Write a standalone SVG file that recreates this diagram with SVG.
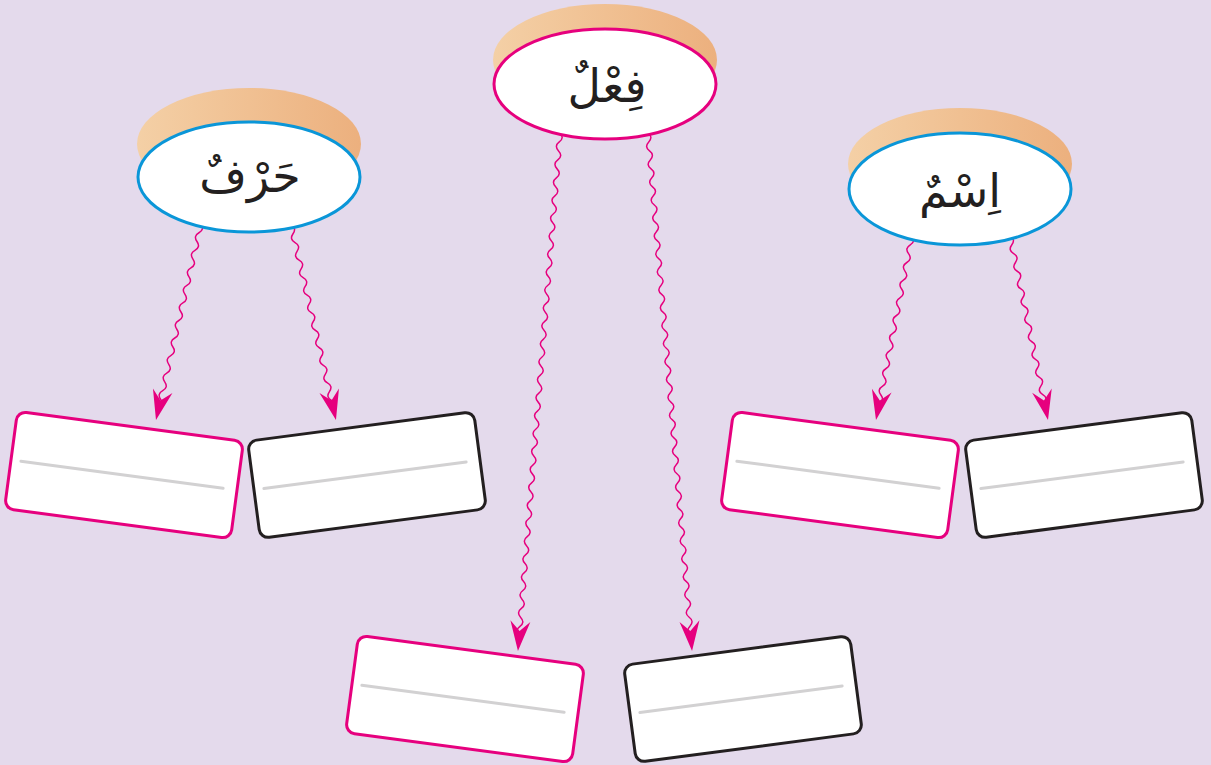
<svg xmlns="http://www.w3.org/2000/svg" xmlns:xlink="http://www.w3.org/1999/xlink" width="1211" height="765" viewBox="0 0 1211 765">
<style>
.bg{fill:#E4DAEC}
.shadow{fill:url(#sh)}
.oval{fill:#FFFFFF;stroke-width:3}
.blue{stroke:#0A96D8}
.pink{stroke:#E6007E}
.dark{stroke:#231F20}
.word{font-family:"DejaVu Sans",sans-serif;font-size:46px;fill:#231F20;text-anchor:middle}
.box{fill:#FFFFFF;stroke-width:3}
.rule{stroke:#D2D1D2;stroke-width:3;stroke-linecap:round;fill:none}
.wave{fill:none;stroke:#E6007E;stroke-width:1.5}
.head{fill:#E6007E}
</style>
<defs>
<linearGradient id="sh" x1="0" y1="0" x2="1" y2="0">
<stop offset="0" stop-color="#F4D0A6"/>
<stop offset="1" stop-color="#ECB07E"/>
</linearGradient>
<path id="w19" d="M0,0 q5,4.5 0,9 t0,9 t0,9 t0,9 t0,9 t0,9 t0,9 t0,9 t0,9 t0,9 t0,9 t0,9 t0,9 t0,9 t0,9 t0,9 t0,9 t0,9 t0,9"/>
<path id="w21" d="M0,0 q5,4.5 0,9 t0,9 t0,9 t0,9 t0,9 t0,9 t0,9 t0,9 t0,9 t0,9 t0,9 t0,9 t0,9 t0,9 t0,9 t0,9 t0,9 t0,9 t0,9 t0,9 t0,9"/>
<path id="w56" d="M0,0 q5,4.5 0,9 t0,9 t0,9 t0,9 t0,9 t0,9 t0,9 t0,9 t0,9 t0,9 t0,9 t0,9 t0,9 t0,9 t0,9 t0,9 t0,9 t0,9 t0,9 t0,9 t0,9 t0,9 t0,9 t0,9 t0,9 t0,9 t0,9 t0,9 t0,9 t0,9 t0,9 t0,9 t0,9 t0,9 t0,9 t0,9 t0,9 t0,9 t0,9 t0,9 t0,9 t0,9 t0,9 t0,9 t0,9 t0,9 t0,9 t0,9 t0,9 t0,9 t0,9 t0,9 t0,9 t0,9 t0,9 t0,9"/>
<path id="ah" d="M0,0 L-10,-30 L0,-20 L10,-30 Z"/>
</defs>
<rect class="bg" x="0" y="0" width="1211" height="765"/>

<g id="connectors">
<g transform="translate(201,224) rotate(12.94)"><use href="#w21" class="wave"/><use href="#ah" class="head" transform="translate(0,201)"/></g>
<g transform="translate(291,225) rotate(-12.99)"><use href="#w21" class="wave"/><use href="#ah" class="head" transform="translate(0,200)"/></g>
<g transform="translate(560,133) rotate(4.64)"><use href="#w56" class="wave"/><use href="#ah" class="head" transform="translate(0,519.7)"/></g>
<g transform="translate(648,133) rotate(-4.86)"><use href="#w56" class="wave"/><use href="#ah" class="head" transform="translate(0,519.9)"/></g>
<g transform="translate(912,236) rotate(11.07)"><use href="#w19" class="wave"/><use href="#ah" class="head" transform="translate(0,187.5)"/></g>
<g transform="translate(1010,236) rotate(-11.67)"><use href="#w19" class="wave"/><use href="#ah" class="head" transform="translate(0,187.9)"/></g>
</g>

<g id="harf">
<ellipse class="shadow" cx="249" cy="144" rx="112" ry="56"/>
<ellipse class="oval blue" cx="249" cy="177" rx="111" ry="55"/>
<text class="word" x="250" y="192" direction="rtl">حَرْفٌ</text>
</g>
<g id="fiel">
<ellipse class="shadow" cx="605" cy="60" rx="112" ry="56"/>
<ellipse class="oval pink" cx="605" cy="84" rx="111" ry="55"/>
<text class="word" x="607" y="102" direction="rtl">فِعْلٌ</text>
</g>
<g id="ism">
<ellipse class="shadow" cx="960" cy="164" rx="112" ry="56"/>
<ellipse class="oval blue" cx="960" cy="189" rx="111" ry="56"/>
<text class="word" x="960" y="207" direction="rtl">اِسْمٌ</text>
</g>

<g id="box1" transform="translate(124,475) rotate(7.6)"><rect class="box pink" x="-114" y="-49" width="228" height="98" rx="9"/><line class="rule" x1="-104" y1="0" x2="100" y2="0"/></g>
<g id="box2" transform="translate(367,475) rotate(-7.5)"><rect class="box dark" x="-114" y="-49" width="228" height="98" rx="9"/><line class="rule" x1="-104" y1="0" x2="100" y2="0"/></g>
<g id="box3" transform="translate(840,475) rotate(7.6)"><rect class="box pink" x="-114" y="-49" width="228" height="98" rx="9"/><line class="rule" x1="-104" y1="0" x2="100" y2="0"/></g>
<g id="box4" transform="translate(1084,475) rotate(-7.5)"><rect class="box dark" x="-114" y="-49" width="228" height="98" rx="9"/><line class="rule" x1="-104" y1="0" x2="100" y2="0"/></g>
<g id="box5" transform="translate(465,699) rotate(7.6)"><rect class="box pink" x="-114" y="-49" width="228" height="98" rx="9"/><line class="rule" x1="-104" y1="0" x2="100" y2="0"/></g>
<g id="box6" transform="translate(743,699) rotate(-7.5)"><rect class="box dark" x="-114" y="-49" width="228" height="98" rx="9"/><line class="rule" x1="-104" y1="0" x2="100" y2="0"/></g>
</svg>
